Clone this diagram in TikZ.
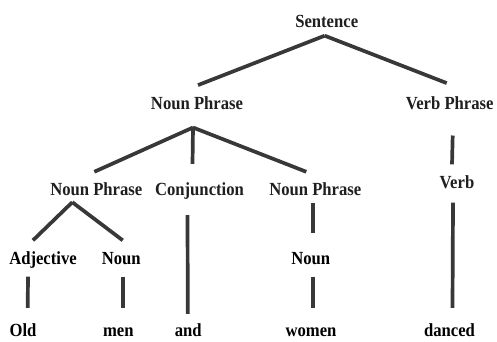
\documentclass[tikz,border=0pt]{standalone}
\usepackage{fontspec}
\setmainfont{Liberation Serif}[FakeStretch=0.9]
\usepackage{tikz}

\begin{document}
\begin{tikzpicture}[x=1pt, y=-1pt, every node/.style={inner sep=0pt, text height=12pt, text depth=0pt, font=\bfseries\fontsize{18.5}{19}\selectfont},
        phrase/.style={text=black!88}, word/.style={text=black},
        branch/.style={line width=3.7pt, draw=black!78}]
        \useasboundingbox (0,0) rectangle (497,341);
        \node[phrase] (s) at (326.7,21.5) {Sentence};
        \node[phrase] (np) at (197,103.3) {Noun Phrase};
        \node[phrase] (vp) at (449.7,103.3) {Verb Phrase};
        \node[phrase] (np1) at (96.3,189) {Noun Phrase};
        \node[phrase] (conj) at (199.5,189) {Conjunction};
        \node[phrase] (np2) at (315.3,189) {Noun Phrase};
        \node[phrase] (verb) at (457,182.5) {Verb};
        \node[word] (adj) at (43,258.5) {Adjective};
        \node[word] (noun1) at (121.2,258.5) {Noun};
        \node[word] (noun2) at (310.8,258.5) {Noun};
        \node[word] (old) at (23,330) {Old};
        \node[word] (men) at (118.3,330) {men};
        \node[word] (and) at (188.3,330) {and};
        \node[word] (women) at (311,330) {women};
        \node[word] (danced) at (449.5,330) {danced};
        \draw[branch] ([shift={(-2,8)}]s.south) -- ([shift={(1,-12)}]np.north);
        \draw[branch] ([shift={(-2,8)}]s.south) -- ([shift={(-3,-14)}]vp.north);
        \draw[branch] ([shift={(-4,18)}]np.south) -- ([shift={(-2,-11)}]np1.north);
        \draw[branch] ([shift={(-4,18)}]np.south) -- ([shift={(-7,-19)}]conj.north);
        \draw[branch] ([shift={(-4,18)}]np.south) -- ([shift={(-9,-11)}]np2.north);
        \draw[branch] ([shift={(3,26)}]vp.south) -- ([shift={(-5,-12)}]verb.north);
        \draw[branch] ([shift={(-24,7)}]np1.south) -- ([shift={(-10,-12)}]adj.north);
        \draw[branch] ([shift={(-24,7)}]np1.south) -- ([shift={(1.5,-12)}]noun1.north);
        \draw[branch] ([shift={(-12,20)}]conj.south) -- ([shift={(-0.5,-10)}]and.north);
        \draw[branch] ([shift={(-2.5,8)}]np2.south) -- ([shift={(2,-19)}]noun2.north);
        \draw[branch] ([shift={(-4,14)}]verb.south) -- ([shift={(3,-16)}]danced.north);
        \draw[branch] ([shift={(-15,12)}]adj.south) -- ([shift={(4.7,-16)}]old.north);
        \draw[branch] ([shift={(1.5,12)}]noun1.south) -- ([shift={(4.4,-16)}]men.north);
        \draw[branch] ([shift={(2.5,12)}]noun2.south) -- ([shift={(2.3,-16)}]women.north);
\end{tikzpicture}
\end{document}
